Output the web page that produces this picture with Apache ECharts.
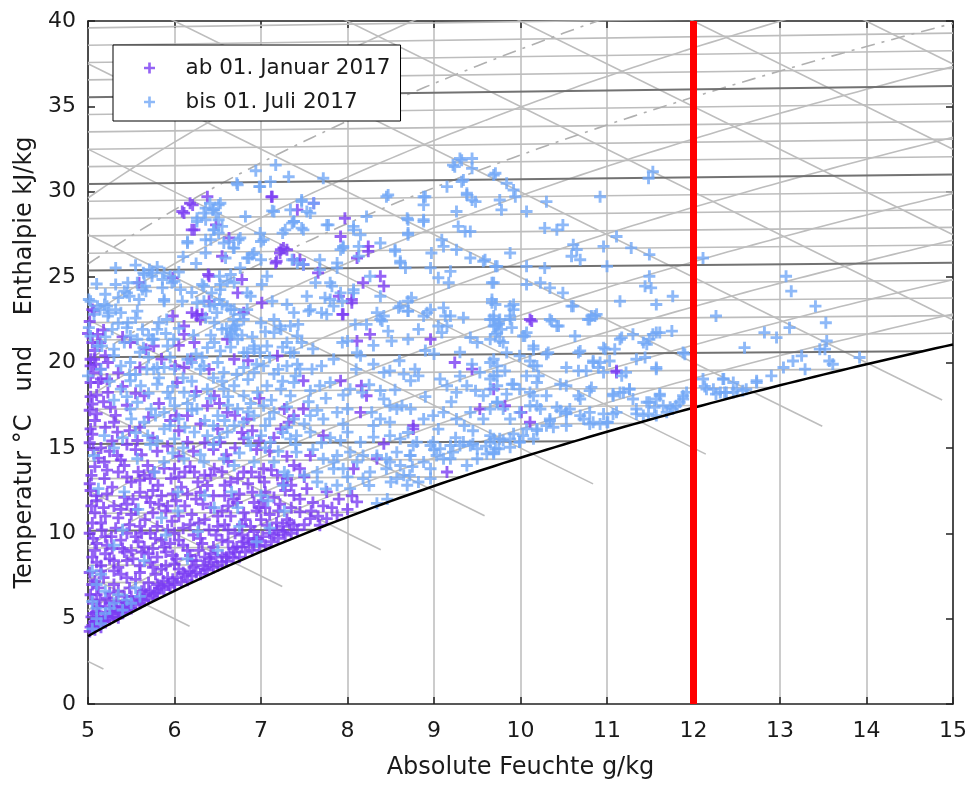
<!DOCTYPE html>
<html>
<head>
<meta charset="utf-8">
<script src="https://cdn.jsdelivr.net/npm/echarts@6/dist/echarts.min.js"></script>
<style>
html,body{margin:0;padding:0;background:#fff}
#chart{width:973px;height:785px}
</style>
</head>
<body>
<div id="chart"></div>
<script>
// Measured states, x = absolute humidity g/kg, y = temperature / enthalpy scale
const purplePoints = [
[7.12,29.7],[6.38,29.71],[6.21,29.23],[6.11,28.75],[6.48,28.06],[6.23,27.77],[6.63,27.29],[6.55,26.22],[7.23,26.6],[7.3,26.6],[7.17,25.83],[6.4,25.05],[6.78,24.86],[6.73,24.08],[7.01,23.5],[6.4,23.59],[6.8,22.92],[6.26,22.82],[6.32,22.82],[5.98,22.72],[5.98,24.96],[5.59,24.67],[5.07,23.01],
[8.38,25.05],[8.42,24.47],[8.18,24.67],[8.05,23.69],[8.24,26.51],[8.11,26.12],[7.92,27.38],[7.97,28.45],[7.61,29.33],[7.42,28.94],[7.45,26.02],[7.38,26.02],[7.49,25.73],[7.66,25.25],[7.9,23.88],[8.05,23.5],[7.94,22.82],
[6.18,29.33],[6.09,28.84],[6.2,27.77],[7.13,29.71],[7.26,26.71],[7.22,26.41],[7.18,25.93],[8.24,26.8],[6.39,25.15],[6.2,22.92],[6.26,22.72],[6.3,22.52],[6.11,22.14],
[5.11,21.65],[5.14,21.17],[5.03,20.19],[5.09,19.9],[5.14,19.61],[5.22,19.03],[5.12,18.83],[5.76,20.97],[6.01,19.8],
[10.11,22.52],[10.13,22.43],[11.11,19.42],[11.11,19.51],[9.69,18.44],[9.82,17.47],[10.01,17.08],[10.11,16.5],
[7.95,22.82],[8.26,21.65],[8.11,21.26],[8.96,21.36],[9.24,20.0],[9.44,19.61],[7.49,18.93],[7.92,18.93],[8.16,18.64],[8.22,18.05],[7.49,17.28],[7.38,16.89],[8.15,17.08],[8.76,16.3],[9.53,17.28],[7.72,15.72],[8.42,15.24],[8.34,14.36],[7.57,14.55],[7.45,13.78],[8.07,13.78],
[5.05,21.17],[5.49,21.17],[5.67,20.78],[6.23,21.17],[6.11,21.65],[6.61,21.36],[7.19,20.39],[5.07,20.19],[5.23,20.0],[6.11,19.71],[6.19,20.19],[6.69,20.19],[5.03,18.83],[5.15,19.03],[5.23,18.25],[5.65,18.05],[6.03,18.83],[6.46,18.05],[5.05,17.57],[5.26,17.38],[6.15,16.89],[6.38,17.47],[6.61,17.08],[6.84,16.69],[7.27,17.28],[5.03,16.11],[5.34,15.92],[5.57,15.43],[6.15,15.34],[6.53,15.34],[6.8,15.53],[7.23,16.11],[5.19,14.17],[5.34,14.55],[5.42,13.97],[5.69,13.97],[5.76,13.59],[6.0,13.78],[6.23,13.59],[6.46,13.78],[6.8,13.59],[7.03,13.78],[7.38,13.97],
[8.76,16.11],[8.11,11.84],[7.76,10.86],[7.88,11.06],[9.15,13.59],[7.76,12.42],[7.53,12.61],[7.38,12.22],[7.45,11.25],[7.57,10.86],[7.68,10.47],[7.38,10.47],[7.26,10.09],[7.15,9.89],[7.07,10.47],[6.96,9.7],[6.92,9.31],[6.8,9.5],[6.68,9.11],
[5.02,22.4],[5.05,23.1],[5.0,21.7],[5.06,19.4],[5.03,18.0],[5.08,16.6],[5.02,15.3],[5.06,14.9],[5.02,12.9],
[5.04,13.39],[5.19,13.2],[5.35,13.59],[5.5,13.0],[5.65,13.39],[5.81,12.81],[5.96,13.2],[6.12,13.59],[6.27,13.0],[6.42,13.39],[6.58,12.81],[6.73,13.2],[6.89,13.59],[7.04,13.0],[7.19,13.39],[7.35,12.81],
[5.03,12.5],[5.1,11.9],[5.22,12.3],[5.3,11.6],[5.42,12.1],[5.55,11.4],[5.6,12.4],[5.72,11.8],[5.85,12.2],[5.9,11.3],[6.02,11.9],[6.15,12.3],[6.2,11.1],[6.33,11.7],[6.45,12.2],[6.5,11.0],[6.62,11.6],[6.75,12.3],[6.8,11.2],[6.92,11.8],[7.05,12.4],[7.1,11.1],[7.22,11.7],[7.3,10.8],[5.08,11.2],[5.15,10.6],[5.35,10.9],[5.48,10.5],[5.66,10.8],[5.8,10.4],[5.97,10.7],[6.1,10.3],[6.28,10.6],[6.4,10.2],[6.58,10.5],[6.7,10.0],[6.88,10.4],[7.0,10.8],
[5.02,10.0],[5.1,9.4],[5.2,9.8],[5.28,9.1],[5.38,9.6],[5.5,9.0],[5.58,9.5],[5.7,8.8],[5.78,9.7],[5.88,9.2],[5.98,8.7],[6.05,9.6],[6.15,9.0],[6.25,8.4],[6.32,9.4],[6.42,8.8],[6.55,9.6],[6.6,8.6],[6.72,9.2],[6.85,9.7],[5.05,8.6],[5.15,8.1],[5.25,8.5],[5.35,8.0],[5.45,8.4],[5.6,8.1],[5.72,8.3],[5.85,7.9],[6.0,8.2],[6.1,7.7],[6.22,8.0],[6.35,7.9],
[5.02,7.7],[5.08,7.2],[5.12,6.8],[5.18,7.4],[5.25,6.5],[5.3,7.0],[5.38,7.6],[5.42,6.3],[5.48,6.8],[5.55,7.3],[5.62,6.6],[5.7,7.1],[5.78,7.6],[5.85,6.9],[5.92,7.4],[5.03,6.4],[5.06,5.9],[5.1,5.4],[5.14,6.1],[5.2,5.7],[5.28,5.3],[5.33,6.0],[5.4,5.7],[5.04,5.1],[5.07,4.8],[5.18,5.1],
[5.02,4.25],[5.05,4.6],[5.08,4.35],[5.12,4.75],[5.15,4.5],[5.2,4.9],[5.25,4.95],[5.3,5.15],[5.35,5.05],[5.4,5.4],[5.45,5.5],[5.5,5.6],[5.55,5.8],[5.6,5.9],[5.65,6.05],[5.7,6.2],[5.75,6.35],[5.8,6.5],[5.88,6.7],[5.95,6.85],[6.0,7.0],[6.08,7.15],[6.15,7.25],[6.2,7.5],[6.3,7.6],[6.38,7.85],[6.45,8.0],[6.5,8.1],[6.6,8.35],[6.68,8.55],[6.75,8.6],[6.82,8.9],[6.9,9.0],[6.98,9.25],[7.05,9.3],[7.12,9.5],[7.2,9.7],[7.28,9.9],[7.35,10.0],
[5.1,12.2],[5.28,12.7],[5.45,11.7],[5.6,13.1],[5.75,12.5],[5.92,11.6],[6.08,12.7],[6.25,12.0],[6.38,12.8],[6.55,11.3],[6.68,12.0],[6.85,12.9],[6.98,11.5],[7.15,12.1],[7.28,12.5],
[5.05,10.6],[5.2,11.0],[5.32,10.3],[5.5,11.1],[5.62,10.0],[5.75,11.2],[5.92,10.2],[6.05,11.0],[6.22,9.9],[6.35,10.8],[6.5,10.4],[6.65,11.0],[6.82,10.8],[6.95,11.3],[7.18,10.6],
[5.08,9.0],[5.22,9.3],[5.4,9.1],[5.55,9.8],[5.65,9.2],[5.8,8.6],[5.95,9.4],[6.1,9.3],[6.28,9.0],[6.45,9.2],[6.62,9.5],[6.78,9.9],
[5.05,7.0],[5.15,7.8],[5.3,7.8],[5.45,7.4],[5.6,7.7],[5.75,8.0],[5.9,8.1],[6.05,7.9],[6.2,8.4],[6.4,8.5],[6.55,8.7],
[5.1,6.4],[5.22,6.2],[5.35,6.6],[5.5,6.3],[5.65,6.7],[5.8,7.0],[5.25,5.9],[5.12,5.7],[5.35,5.4],[5.45,5.8],
[5.15,15.0],[5.3,16.5],[5.45,15.2],[5.6,16.2],[5.8,14.8],[5.95,16.6],[6.05,14.5],[6.3,16.4],[6.45,14.9],[6.7,15.0],[6.9,16.0],[7.1,14.8],[7.3,14.5],[5.1,17.0],[5.4,18.6],[5.7,16.8],[5.25,14.8],[5.55,14.9],[6.6,14.6],[6.95,14.9],
[5.03,4.5],[5.06,5.3],[5.09,4.9],[5.13,5.3],[5.17,4.8],[5.22,5.1],[5.27,5.45],[5.32,5.7],[5.38,5.3],[5.43,5.9],[5.47,5.6],[5.52,6.0],[5.57,6.2],[5.62,6.1],[5.67,6.4],[5.72,6.6],[5.77,6.5],[5.82,6.8],[5.87,7.2],[5.93,7.0],[5.98,7.3],[6.03,7.4],[6.12,7.6],[6.18,7.8],[6.25,7.7],[6.33,8.1],[6.42,8.3],[6.48,8.6],[6.55,8.3],[6.63,8.8],[6.7,8.9],[6.78,9.2],[6.86,9.4],[6.94,9.6],[7.02,9.8],[7.1,10.0],[7.18,10.2],[7.25,10.4],[7.33,10.6],[7.42,10.2],[7.5,10.5],[7.58,11.3],[7.66,11.0],[7.72,11.6],[7.82,11.5],[7.9,12.0],[8.0,11.4],[8.05,12.2],
[5.1,8.3],[5.2,8.8],[5.3,8.4],[5.42,8.9],[5.52,8.5],[5.62,8.9],[5.75,9.1],[5.9,8.9],[6.02,8.5],[6.18,8.7],[6.35,8.6],
[5.06,9.7],[5.16,10.2],[5.27,9.8],[5.45,10.0],[5.6,10.4],[5.72,10.0],[5.85,9.6],[6.0,10.0],[6.18,10.5],[6.3,9.7],[6.48,9.9],[6.62,10.2],[6.78,10.5],[6.92,10.1],[7.05,11.5],[7.2,11.3],[7.35,11.5],
[5.04,11.6],[5.18,11.5],[5.38,11.4],[5.52,12.0],[5.68,12.1],[5.82,11.7],[5.98,12.3],[6.12,11.6],[6.3,12.4],[6.42,11.5],[6.58,12.2],[6.72,11.8],[6.9,12.4],[7.02,11.9],[7.25,12.9],[7.45,12.0],[7.6,11.8],
[5.08,13.9],[5.22,13.7],[5.45,13.3],[5.58,13.6],[5.72,13.2],[5.88,13.8],[6.05,13.3],[6.18,13.9],[6.35,13.4],[6.55,13.6],[6.65,13.0],[6.98,13.3],[7.12,13.7],[7.3,13.2],[7.5,13.3],
[5.05,15.8],[5.12,14.4],[5.2,16.2],[5.28,15.4],[5.38,14.3],[5.48,16.0],[5.62,14.6],[5.75,15.6],[5.92,15.1],[6.05,16.0],[6.22,14.8],[6.35,15.3],[6.5,16.1],[6.62,14.2],[6.78,15.9],[6.98,15.4],[7.15,15.6],[7.32,16.5],
[5.02,17.2],[5.1,18.1],[5.18,17.7],[5.32,16.9],[5.45,17.5],[5.55,18.2],[5.82,17.6],[6.02,16.9],[6.25,18.3],[6.52,17.6],[6.7,16.9],[6.98,17.9],
[5.03,19.8],[5.08,20.7],[5.18,21.9],[5.2,20.4],[5.35,19.4],[5.4,21.5],[5.6,19.7],[5.85,20.2],[6.05,21.0],[6.4,19.6],[6.85,20.1]
];

const bluePoints = [
[7.17,31.56],[6.94,31.23],[7.32,30.88],[6.73,30.4],[6.98,30.3],[6.36,29.04],[6.44,28.94],[6.51,29.23],[6.48,28.75],[6.26,28.26],[6.36,28.36],[6.55,27.97],[6.46,27.77],[6.82,28.55],[7.13,28.88],[7.34,28.94],[7.38,28.26],[7.25,27.58],[7.0,27.09],[6.76,27.29],[6.57,27.0],[6.69,26.7],[6.42,27.19],[6.15,27.0],[6.36,26.41],[6.59,26.12],[6.84,26.12],[6.9,26.32],[7.0,26.02],[6.76,25.54],[6.65,25.15],[6.52,25.05],[6.61,24.76],[6.69,24.67],[7.07,25.05],[7.01,24.57],[6.32,24.57],[6.53,24.27],[6.84,24.08],[6.88,23.88],[7.13,23.59],[7.3,23.4],[6.46,23.4],[6.52,23.69],[6.61,23.3],[6.69,23.1],[6.84,23.1],[6.26,23.5],[5.86,24.86],[6.0,24.76],[5.71,25.44],[5.74,25.25],[5.65,25.15],[5.46,24.67],[5.42,24.18],[5.48,23.88],[5.32,25.54],[5.32,24.57],[5.63,24.27],[5.67,24.18],[5.88,23.69],[5.86,24.37],[5.11,23.3],[5.19,23.4],[5.24,22.92],[5.38,22.92],[5.57,23.01],[5.03,23.59],
[9.3,31.95],[9.44,31.95],[9.24,31.47],[9.44,31.37],[9.34,30.69],[9.32,30.59],[9.15,30.3],[9.69,30.98],[9.38,29.91],[9.44,29.52],[9.48,29.42],[9.26,28.84],[8.88,29.71],[8.88,29.23],[8.47,29.81],[7.72,30.79],[8.7,28.36],[8.88,28.36],[9.28,27.97],[9.36,27.67],[9.42,27.67],[9.09,27.19],[9.11,26.8],[9.26,26.61],[8.7,27.48],[8.55,26.61],[8.38,27.0],[8.22,28.55],[8.15,27.48],[8.07,27.97],[7.76,28.06],[7.47,27.87],[7.38,28.26],[7.47,29.52],[7.53,28.84],[7.57,28.75],[7.95,26.8],[7.92,26.61],[7.68,26.02],[7.88,25.54],[8.61,25.93],[8.67,25.54],[8.96,25.54],[9.05,24.96],[9.19,25.34],[9.42,26.12],[9.57,25.93],[9.71,25.63],[9.17,24.67],[9.67,24.67],[9.67,23.5],[9.11,23.2],[8.96,23.1],[8.92,22.92],[8.7,23.59],[8.74,23.79],[8.59,23.2],[8.7,23.01],[9.19,22.72],[8.38,23.88],[8.26,25.05],[8.07,24.27],[7.8,24.67],[7.82,24.47],[7.63,24.67],[7.92,24.08],[7.74,23.79],[7.8,23.69],[7.84,23.3],[7.7,22.92],[7.94,23.59],[8.07,24.08],[7.53,23.88],[7.57,23.1],[7.38,22.92],[8.34,22.92],[8.42,22.72],[8.61,23.3],
[6.72,30.5],[6.99,30.3],[7.11,30.59],[6.26,28.45],[6.34,28.75],[6.45,28.94],[6.53,29.33],[6.41,29.33],[6.51,28.36],[6.15,27.09],[6.36,27.19],[6.45,27.77],[6.51,27.58],[7.15,28.84],[7.47,29.42],[7.61,29.33],[7.28,27.77],[7.36,28.16],[7.49,27.77],[7.78,28.06],[8.07,27.77],[8.45,29.71],[8.69,28.45],[8.88,28.26],[8.9,29.71],[9.22,31.56],[9.32,31.85],[9.38,29.81],[6.63,27.09],[6.74,27.19],[6.68,26.71],[6.86,26.12],[6.92,26.41],[7.03,27.19],[6.99,27.58],[7.36,26.02],[7.42,25.83],[7.49,25.73],[7.68,25.44],[7.88,25.83],[7.95,26.71],[8.13,26.22],[8.13,26.8],[8.55,26.51],[8.61,25.83],[8.7,27.58],[8.97,26.41],
[5.01,23.69],[5.14,23.1],[5.22,23.3],[5.32,23.1],[5.45,24.08],[5.57,24.67],[5.66,24.47],[5.64,25.25],[5.74,25.05],[5.88,25.25],[5.95,25.05],[5.97,24.67],[5.59,23.69],[5.88,23.59],[6.07,24.27],[6.09,23.59],[6.34,24.47],[6.43,24.08],[6.53,24.57],[6.34,23.59],[6.41,23.3],[6.49,22.92],[6.55,23.4],[6.65,23.1],[6.68,22.52],[6.76,22.82],[5.91,22.52],[5.8,21.94],[5.74,21.36],[5.99,21.36],[5.45,22.04],[5.49,21.55],[5.57,21.36],[5.01,22.04],[5.03,21.55],[5.16,20.97],[5.3,20.78],[5.64,20.87],[5.68,19.61],[5.8,19.71],[6.15,20.19],[6.2,20.0],[6.3,19.61],[6.84,20.58],[6.92,20.97],[6.99,20.58],[7.15,21.75],[7.22,22.14],[7.34,20.58],[5.0,19.22],
[6.6,22.0],[6.66,21.8],[6.72,22.2],[6.78,21.6],[6.64,21.5],[6.7,21.95],
[5.07,22.82],[5.23,22.72],[5.46,22.33],[5.63,21.94],[5.28,21.94],[5.82,22.33],[6.36,22.62],[6.46,22.33],[6.55,21.94],[6.65,21.65],[6.73,21.36],[6.69,22.14],[6.8,22.52],[7.0,22.33],[7.15,22.52],[7.23,21.94],[7.34,22.14],[5.76,21.36],[5.92,20.97],[5.42,21.17],[5.11,20.97],[6.38,20.87],[6.46,21.17],[6.53,20.68],[6.8,20.58],[6.92,20.78],[7.07,20.97],[7.3,21.17],[7.38,20.58],[5.38,19.8],[5.49,20.0],[5.76,19.61],[5.88,19.71],[6.0,19.61],[6.34,19.8],[6.5,20.0],[6.57,19.42],[6.8,19.71],[6.92,19.42],[7.03,19.8],[7.15,19.32],[7.3,19.8],[5.38,18.44],[5.49,18.93],[5.61,18.64],[5.8,18.73],[5.92,18.25],[6.11,18.25],[6.23,18.05],[6.38,18.44],[6.57,18.44],[6.69,18.64],[6.8,18.05],[6.96,18.25],[7.07,18.64],[7.23,18.44],[7.34,18.05],[5.49,17.28],[5.57,17.67],[5.73,17.28],[5.88,17.08],[6.0,17.47],[6.26,17.28],[6.5,16.89],[6.73,17.28],[6.92,16.89],[7.03,17.47],[7.15,17.08],[7.38,16.69],[5.19,15.72],[5.69,15.72],[5.88,16.11],[6.0,15.53],[6.23,15.92],[6.38,15.72],[6.61,15.92],[6.69,16.3],[6.88,15.14],[7.0,15.72],[7.11,15.34],[7.34,15.53],[5.07,14.55],[5.57,14.36],[5.88,14.17],[6.11,14.36],[6.34,14.17],[6.57,14.36],[6.69,13.97],[6.92,14.17],[7.15,14.17],[7.27,13.59],
[7.55,23.01],[7.76,22.82],[8.38,22.52],[8.7,23.01],[8.88,22.72],[9.13,22.72],[9.15,22.14],[9.34,22.62],[9.65,22.52],[9.69,22.14],[9.75,22.23],[7.43,22.23],[7.42,21.55],[7.47,21.17],[8.09,22.23],[8.22,22.23],[8.4,22.43],[7.94,21.17],[8.0,21.26],[8.47,21.84],[8.51,21.26],[8.7,21.36],[8.82,21.94],[9.05,22.14],[9.09,21.75],[9.42,21.46],[9.5,21.17],[9.65,21.36],[9.71,21.65],[7.84,20.19],[7.7,19.8],[7.59,19.61],[7.45,19.61],[7.4,19.22],[8.11,20.58],[8.15,20.39],[8.3,19.9],[8.42,19.42],[8.49,19.51],[8.65,19.32],[8.78,19.61],[8.82,19.22],[8.73,18.93],[9.07,19.03],[9.15,18.64],[9.26,18.25],[9.38,18.64],[9.48,18.35],[9.57,18.05],[9.65,18.44],[9.73,18.64],[9.69,19.22],[9.53,19.42],[9.44,19.9],[9.65,20.0],[7.38,18.83],[7.57,18.35],[7.68,18.64],[7.8,18.83],[8.03,18.44],[8.38,18.35],[8.42,17.86],[8.49,17.47],[8.57,17.28],[8.63,17.47],[8.73,17.28],[7.57,16.89],[7.72,16.69],[7.88,17.08],[8.0,17.28],[8.28,17.08],[8.38,16.69],[8.49,16.5],[8.88,16.69],[8.99,16.89],[9.11,17.08],[9.26,16.69],[9.42,17.08],[9.65,17.28],[9.73,17.67],[9.57,16.69],[7.41,15.72],[7.57,15.92],[7.92,15.43],[8.0,15.92],[8.15,15.34],[8.3,15.63],[8.49,15.72],[8.61,15.53],[8.76,15.14],[8.99,15.34],[9.07,14.95],[9.19,15.14],[9.34,15.34],[9.42,15.14],[9.5,14.95],[9.65,15.34],[9.69,14.75],[9.5,14.36],[9.38,13.97],[9.19,14.36],[9.03,14.55],[8.88,14.17],[8.73,14.55],[8.61,13.97],[8.49,14.17],[8.18,14.55],[8.03,14.75],[7.88,14.55],[7.72,14.36],[7.41,14.75],[7.65,13.59],[7.84,13.78],[8.26,13.59],[8.45,13.78],[8.65,13.39],[8.96,13.78],
[8.17,18.25],[8.34,11.75],[8.46,12.0],[8.69,12.81],[8.82,13.0],[8.96,13.2],[8.03,12.61],[8.18,13.2],[8.57,13.2],[8.72,13.39],[9.11,14.36],[9.22,14.75],[9.3,15.14],[9.45,15.24],[8.96,15.14],[8.8,15.34],[8.34,14.55],[8.45,14.36],[8.57,14.75],[8.72,14.55],[8.11,14.17],[7.95,13.78],[7.84,14.17],[7.88,12.81],[7.65,13.0],[7.26,12.81],
[9.71,31.08],[9.84,30.5],[9.92,30.1],[9.94,29.71],[9.76,29.52],[9.78,28.94],[10.07,28.84],[10.3,29.42],[10.92,29.71],[11.48,30.79],[11.53,31.17],[10.28,27.87],[10.42,27.77],[10.49,28.06],[10.61,26.9],[10.65,26.61],[10.59,26.22],[10.69,26.02],[9.88,26.41],[9.59,26.02],[9.73,25.63],[10.07,25.63],[10.28,25.54],[10.96,26.8],[11.11,27.38],[11.28,26.71],[11.49,26.32],[11.0,25.63],[9.69,24.67],[9.67,23.69],[10.07,24.57],[10.23,24.67],[10.34,24.37],[10.49,24.08],[11.49,25.05],[11.44,24.47],[11.51,24.37],[11.76,23.88],[11.15,23.59],[11.57,23.4],[9.71,23.4],[9.88,23.3],[9.92,23.1],[10.61,23.3],[10.8,22.52],[10.86,22.72],[10.34,22.52],[10.42,22.14],[9.69,22.52],[9.75,22.33],[9.88,22.52],[10.03,21.55],[10.63,21.55],[11.15,21.36],[11.3,21.65],[11.42,21.17],[11.49,21.36],[11.57,21.75],[11.75,21.84],[10.96,20.87],[11.09,20.78],[10.69,20.68],[10.3,20.49],[10.15,20.97],[11.34,20.19],[11.44,20.29],[10.84,20.09],[10.92,20.0],[11.88,20.58],[11.57,19.71],[10.11,20.09],[10.19,19.8],[10.53,19.71],[12.11,26.12],[12.26,22.72],[13.07,25.05],[13.13,24.18],[13.41,23.3],[13.53,22.33],[12.82,21.75],[12.96,21.46],[13.11,22.04],[13.54,21.26],[12.59,20.87],[13.46,20.78],[13.52,20.78],[13.25,20.39],[13.15,20.09],[13.29,19.61],[13.57,20.09],[13.61,19.9],[13.92,20.29],[13.04,19.71],[12.9,19.22],[12.73,18.93],[12.61,18.44],[12.35,19.03],[12.46,18.83],[12.23,18.44],[12.11,19.03],[12.13,18.6],
[9.92,23.4],[10.59,23.3],[9.69,22.72],[9.76,22.52],[9.88,22.72],[10.36,22.43],[10.44,22.14],[10.78,22.52],[10.82,22.72],[10.88,22.82],[9.71,22.14],[9.73,21.75],[9.78,21.94],[9.9,22.04],[9.8,21.17],[9.76,21.26],[10.05,21.55],[10.07,21.75],[11.17,21.46],[11.46,21.07],[11.53,21.65],[11.61,21.75],[10.15,20.78],[9.99,20.39],[9.84,20.58],[9.69,20.19],[9.73,19.8],[9.82,19.51],[9.65,19.03],[10.32,20.58],[10.67,20.58],[10.98,20.78],[11.03,20.09],[11.9,20.49],[10.15,19.8],[10.21,19.22],[10.07,19.22],[9.99,18.44],[9.9,18.73],[9.73,19.22],[10.67,19.51],[10.76,19.51],[10.84,20.0],[10.9,19.71],[10.96,19.42],[11.17,19.22],[11.22,19.42],[11.57,19.61],[12.34,19.03],[12.31,18.25],[12.38,18.25],[12.5,18.44],[11.88,17.86],[11.8,17.47],[11.73,17.38],[10.15,18.05],[10.11,17.47],[10.23,17.28],[10.53,18.64],[10.67,18.05],[10.82,18.54],[10.8,18.35],[11.07,18.15],[11.19,18.25],[11.26,18.44],[11.3,17.86],[11.49,17.67],[11.61,18.05],[11.65,17.47],[11.55,17.38],[11.48,16.99],[11.34,16.99],[11.57,16.89],[11.69,17.08],[10.46,17.18],[10.57,17.28],[10.53,16.99],[10.69,16.89],[10.8,16.4],[10.92,16.4],[11.0,16.5],[11.07,16.99],[11.11,17.08],[10.34,16.69],[10.3,16.3],[10.38,16.21],[10.19,16.11],[10.03,15.72],[9.92,15.82],[9.88,15.53],[9.8,15.43],[9.69,15.53],[9.65,15.72],[9.99,15.34],[10.15,15.53],[9.75,14.95],[9.69,14.65],
[11.76,17.28],[11.84,17.67],[11.88,18.05],[11.92,18.25],[11.61,18.15],[11.57,17.86],[11.34,17.28],[11.42,16.89],[11.46,17.67],[12.15,18.44],[12.26,18.15],[12.36,18.25],[12.46,18.25],[12.57,18.35],[12.73,18.83],[11.15,18.25],[11.26,18.44],[11.07,18.05],[10.96,16.99],[10.84,16.5],[11.01,16.5],[10.73,16.69],[10.8,17.08],[10.53,16.3],[10.42,17.38],[10.34,16.59],[10.19,16.01],[10.07,16.11],[9.99,15.34],[9.76,15.53],[9.71,14.95],[9.61,14.65],[9.88,15.04],[10.53,17.08],[10.69,17.86],[10.19,17.47],[10.3,18.05],[9.99,17.08],[9.88,16.69],[9.8,17.28],[9.73,17.67],[10.11,18.25],[9.92,18.73],[10.19,18.83],[10.46,18.73],[9.84,18.15],
[5.05,4.4],[5.1,5.0],[5.15,4.7],[5.2,5.3],[5.1,5.6],[5.05,6.0],[5.25,5.6],[5.3,5.9],[5.4,5.5],[5.45,6.1],[5.35,6.4],[5.2,6.6],[5.1,7.0],[5.5,5.9],[5.6,6.3],[5.55,6.8],[5.15,7.6],[5.05,7.8],
[5.12,12.61],[5.42,12.42],[5.77,13.59],[6.04,12.42],[6.35,12.22],[6.66,12.42],[7.0,12.22],[7.31,13.39],[5.58,11.4],[6.04,11.3],[6.46,11.5],[6.73,11.5],[7.08,11.9],[7.27,11.3],[5.9,9.9],[6.27,10.1],[6.75,10.4],[7.1,10.3],[5.3,9.3],[5.65,8.4],[6.15,8.5],[6.5,9.0],[5.4,10.2],[5.85,10.9],[6.95,9.5],
[5.3,20.4],[5.55,19.3],[5.7,20.3],[5.95,20.3],[6.1,19.1],[6.25,20.5],[6.45,19.1],[6.65,20.9],[6.85,19.0],[7.1,20.3],[7.25,18.9],[5.45,18.0],[5.7,18.2],[5.95,17.9],[6.15,17.6],[6.42,17.9],[6.62,18.0],[6.88,17.6],[7.12,17.8],[7.3,17.4],[5.65,16.5],[5.95,16.3],[6.12,16.2],[6.35,16.6],[6.58,16.6],[6.8,16.5],[7.05,16.3],[7.25,15.9],[5.4,15.6],[5.8,15.4],[6.1,15.0],[6.45,15.2],[6.75,14.7],[7.2,14.8],[7.55,17.7],[7.75,17.9],[7.95,18.1],[8.25,18.7],[8.55,18.4],[8.9,18.0],[9.2,17.7],[9.35,16.3],[9.05,16.1],[8.7,15.9],[8.3,16.3],[7.95,16.4],[7.7,15.3],[8.1,19.6],[8.6,20.1],[9.0,20.5],[9.3,19.2],[7.6,20.8],[8.3,21.0],[8.9,20.7],[9.3,20.6],
[5.15,19.6],[5.25,18.9],[5.48,19.3],[5.6,20.6],[5.82,19.1],[5.98,18.6],[6.2,18.9],[6.32,20.3],[6.55,18.9],[6.72,19.3],[6.95,19.9],[7.2,19.6],[7.42,19.9],
[5.3,17.8],[5.5,16.7],[5.78,16.9],[6.05,16.7],[6.2,17.2],[6.45,16.3],[6.62,17.5],[6.85,17.1],[7.1,16.7],[7.3,16.2],[7.5,16.4],[7.65,17.2],
[5.3,15.0],[5.55,15.9],[5.72,15.2],[5.98,14.7],[6.3,14.6],[6.52,15.6],[6.85,15.6],[7.05,15.0],[7.4,15.2],[7.6,14.9],[7.8,15.6],
[5.2,21.5],[5.35,22.3],[5.55,22.6],[5.7,21.6],[5.9,21.7],[6.05,22.0],[6.22,21.6],[6.42,21.6],[6.9,21.5],[7.05,21.8],[7.25,20.9],
[5.1,24.6],[5.2,24.0],[5.35,23.8],[5.55,25.7],[5.8,25.6],[6.05,25.3],[6.2,24.1],[6.1,26.2],[6.25,25.8],
[7.5,13.4],[7.75,12.6],[8.0,13.3],[8.25,12.8],[8.5,13.0],[8.75,13.9],[9.0,14.9],[9.25,15.6],[9.45,16.0],[9.6,15.1]
];

// Chart construction lines (Mollier h,x diagram at 1013 hPa)
const isothermTemps = [4,5,6,7,8,9,10,11,12,13,14,15,16,17,18,19,20,21,22,23,24,25,26,27,28,29,30,31,32,33,34,35,36,37,38,39];
const enthalpyLevels = [15,20,25,30,35,40,45,50,55,60,65,70,75];
const humidityLevels = [0.2,0.3,0.4,0.5,0.6,0.7,0.8,0.9];
const humidityDashed = [0.25,0.35];
const limitX = 12;
const seriesNames = ['ab 01. Januar 2017', 'bis 01. Juli 2017'];

const P = 101.325;
const psat = t => 0.6112 * Math.exp(17.62 * t / (243.12 + t));
const tFromPv = pv => { const l = Math.log(pv / 0.6112); return 243.12 * l / (17.62 - l); };
const xFromPv = pv => 622 * pv / (P - pv);
const pvFromX = x => P * x / (622 + x);
const yOf = (t, x) => t * (1.006 + 0.00186 * x);

const xs = [];
for (let i = 0; i <= 100; i++) xs.push(+(5 + i * 0.1).toFixed(2));

function satAtEnthalpy(h) {
  let lo = -20, hi = 60;
  for (let k = 0; k < 60; k++) {
    const m = (lo + hi) / 2, xm = xFromPv(psat(m));
    if (yOf(m, xm) + 2.501 * xm > h) hi = m; else lo = m;
  }
  return xFromPv(psat(lo));
}

// bold plus marker
const PLUS = 'path://M3.8,0 L6.2,0 L6.2,3.8 L10,3.8 L10,6.2 L6.2,6.2 L6.2,10 L3.8,10 L3.8,6.2 L0,6.2 L0,3.8 L3.8,3.8 Z';
const LIGHT = '#bdbdbd', DARK = '#727272';

function lineSeries(data, color, width, type, z) {
  return {
    type: 'line', data: data, symbol: 'none', showSymbol: false, silent: true,
    clip: true, z: z, lineStyle: { color: color, width: width, type: type || 'solid' }
  };
}

const series = [];
// isotherms: from the left edge to the saturation curve
isothermTemps.forEach(t => {
  const xe = Math.min(15, xFromPv(psat(t)));
  if (xe <= 5) return;
  const dark = t % 5 === 0;
  series.push(lineSeries([[5, yOf(t, 5)], [xe, yOf(t, xe)]], dark ? DARK : LIGHT, dark ? 2 : 1.6, 'solid', dark ? 2 : 1));
});
// enthalpy lines, running a short way past saturation
enthalpyLevels.forEach(h => {
  const xe = Math.min(15, satAtEnthalpy(h) + 0.3 + 0.01 * h);
  series.push(lineSeries([[5, h - 2.501 * 5], [xe, h - 2.501 * xe]], LIGHT, 1.6, 'solid', 1));
});
// relative humidity lines
const rhCurve = phi => xs.map(x => [x, yOf(tFromPv(pvFromX(x) / phi), x)]);
humidityLevels.forEach(phi => series.push(lineSeries(rhCurve(phi), LIGHT, 1.6, 'solid', 1)));
humidityDashed.forEach(phi => series.push(lineSeries(rhCurve(phi), '#b0b0b0', 1.6, [14, 7, 3, 7], 1)));
// saturation curve
series.push(lineSeries(xs.map(x => [x, yOf(tFromPv(pvFromX(x)), x)]), '#000', 2.5, 'solid', 6));

series.push({
  name: seriesNames[0], type: 'scatter', data: purplePoints, symbol: PLUS, symbolSize: 12,
  itemStyle: { color: '#7a3cf2' }, z: 4, silent: true
});
series.push({
  name: seriesNames[1], type: 'scatter', data: bluePoints, symbol: PLUS, symbolSize: 12,
  itemStyle: { color: '#72a7f6' }, z: 5, silent: true
});
// limit line
series.push(lineSeries([[limitX, 0], [limitX, 40]], '#ff0000', 7, 'solid', 8));

const FONT = 'DejaVu Sans';
const chart = echarts.init(document.getElementById('chart'), null, { renderer: 'canvas' });
chart.setOption({
  animation: false,
  backgroundColor: '#ffffff',
  grid: { left: 88, right: 20, top: 21, bottom: 79 },
  legend: {
    data: seriesNames.map(n => ({ name: n, icon: PLUS })),
    orient: 'vertical', left: 113, top: 45,
    itemWidth: 62, itemHeight: 11, itemGap: 12,
    padding: [12, 10, 8, 31],
    backgroundColor: '#ffffff', borderColor: '#000', borderWidth: 1,
    textStyle: { fontFamily: FONT, fontSize: 21.5, color: '#1a1a1a' },
    selectedMode: false
  },
  xAxis: [{
    type: 'value', min: 5, max: 15, interval: 1, position: 'bottom',
    name: 'Absolute Feuchte g/kg', nameLocation: 'middle', nameGap: 52,
    nameTextStyle: { fontFamily: FONT, fontSize: 24, color: '#1a1a1a' },
    axisLine: { show: true, onZero: false, lineStyle: { color: '#222', width: 1.5 } },
    axisTick: { inside: true, length: 7, lineStyle: { color: '#222', width: 1.5 } },
    axisLabel: { fontFamily: FONT, fontSize: 22, color: '#1a1a1a', margin: 16 },
    splitLine: { show: true, lineStyle: { color: '#bbbbbb', width: 1.5 } }
  }, {
    type: 'value', min: 5, max: 15, interval: 1, position: 'top',
    axisLine: { show: true, onZero: false, lineStyle: { color: '#222', width: 1.5 } },
    axisTick: { inside: true, length: 7, lineStyle: { color: '#222', width: 1.5 } },
    axisLabel: { show: false }, splitLine: { show: false }
  }],
  yAxis: [{
    type: 'value', min: 0, max: 40, interval: 5, position: 'left',
    name: 'Temperatur °C   und    Enthalpie kJ/kg', nameLocation: 'middle', nameGap: 50,
    nameTextStyle: { fontFamily: FONT, fontSize: 24, color: '#1a1a1a' },
    axisLine: { show: true, onZero: false, lineStyle: { color: '#222', width: 1.5 } },
    axisTick: { inside: true, length: 7, lineStyle: { color: '#222', width: 1.5 } },
    axisLabel: { fontFamily: FONT, fontSize: 22, color: '#1a1a1a', margin: 12, padding: [5, 0, 0, 0] },
    splitLine: { show: false }
  }, {
    type: 'value', min: 0, max: 40, interval: 5, position: 'right',
    axisLine: { show: true, onZero: false, lineStyle: { color: '#222', width: 1.5 } },
    axisTick: { inside: true, length: 7, lineStyle: { color: '#222', width: 1.5 } },
    axisLabel: { show: false }, splitLine: { show: false }
  }],
  series: series
});
</script>
</body>
</html>
